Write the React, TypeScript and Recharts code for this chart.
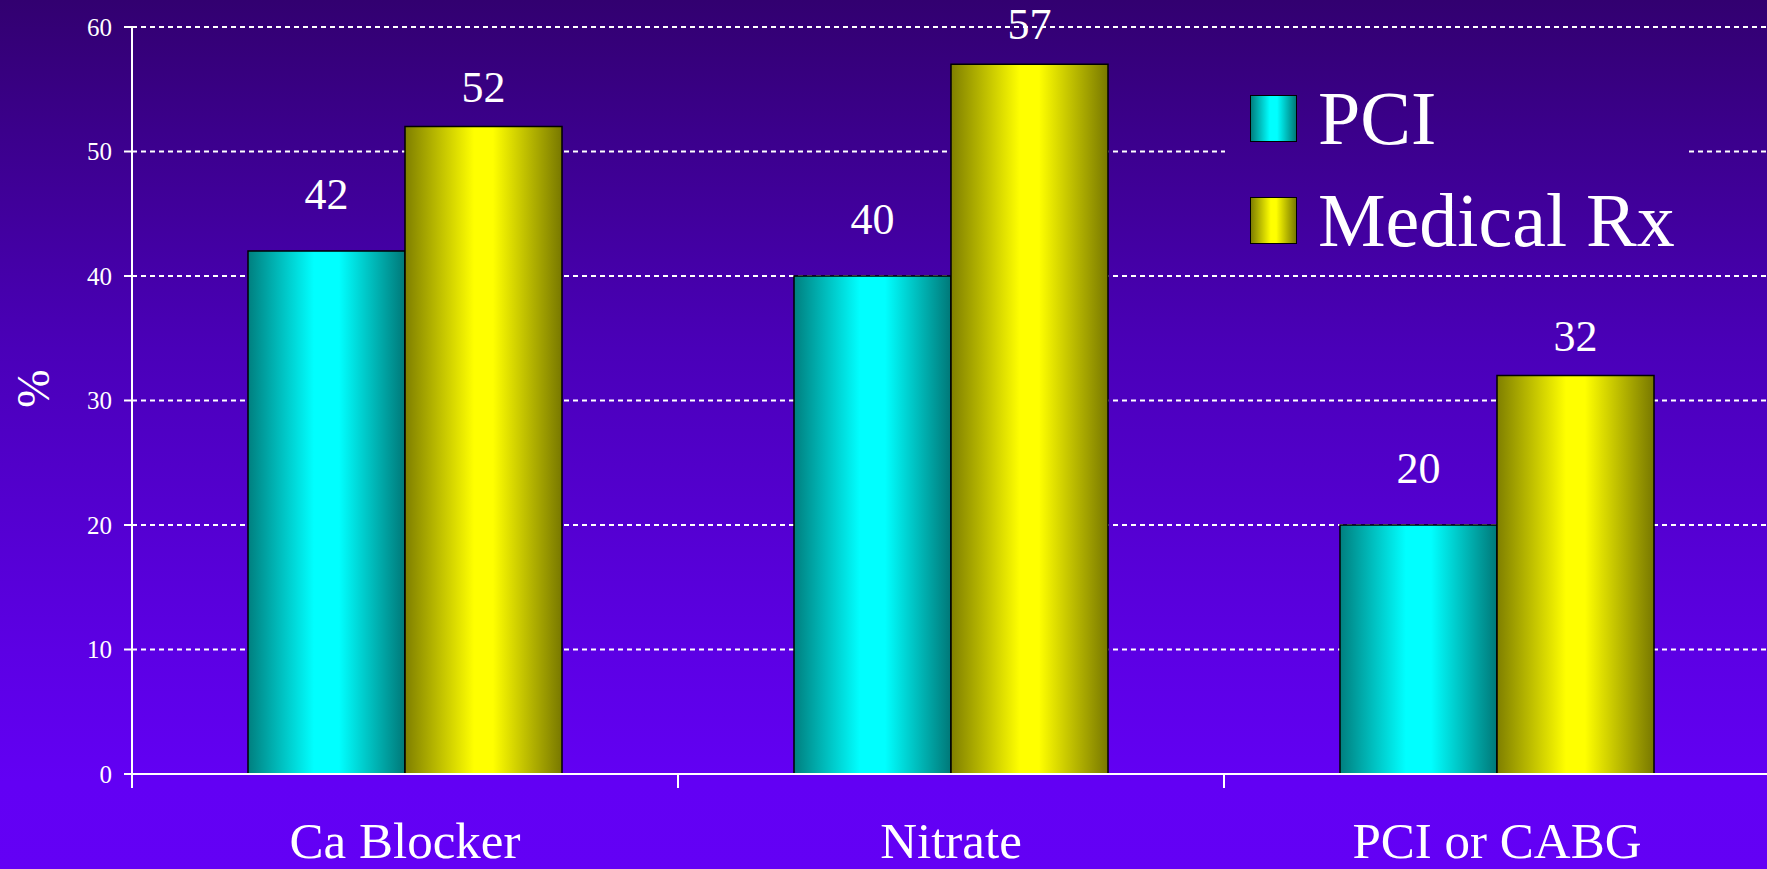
import React from "react";
import {
  BarChart,
  Bar,
  XAxis,
  YAxis,
  CartesianGrid,
  Legend,
  LabelList,
  Label,
} from "recharts";

const categories = ["Ca Blocker", "Nitrate", "PCI or CABG"];
const pciValues = [42, 40, 20];
const medicalValues = [52, 57, 32];
const yTicks = [0, 10, 20, 30, 40, 50, 60];

const SERIF = '"Liberation Serif", "Times New Roman", serif';
const PAGE_BG =
  "linear-gradient(to bottom, #320070 0%, #4a00b8 40%, #5c00e4 75%, #6200f4 90%, #6300f5 100%)";

const data = categories.map((name, i) => ({
  name,
  pci: pciValues[i],
  medical: medicalValues[i],
}));

const SERIES = [
  { key: "pci", name: "PCI", grad: "gradPci" },
  { key: "medical", name: "Medical Rx", grad: "gradMed" },
];
const SERIES_ORDER = SERIES.map((s) => s.name);

const LEGEND_SWATCH: Record<string, string> = {
  PCI: "linear-gradient(to right, #007f7f 0%, #00ffff 42%, #00ffff 58%, #007878 100%)",
  "Medical Rx":
    "linear-gradient(to right, #7f7f00 0%, #ffff00 44%, #ffff00 56%, #787800 100%)",
};

// category label under the band centre, plus a tick mark at the band's left edge
function CategoryTick(props: any) {
  const { x, y, payload } = props;
  const half = payload?.offset ?? 273;
  return (
    <g>
      <line x1={x - half} y1={y} x2={x - half} y2={y + 14} stroke="#fff" strokeWidth={2} />
      <text
        x={x}
        y={y + 84}
        textAnchor="middle"
        fill="#fff"
        fontSize={51}
        fontFamily={SERIF}
      >
        {payload.value}
      </text>
    </g>
  );
}

function PercentLabel(props: any) {
  const vb = props.viewBox || { x: 0, y: 27, width: 132, height: 747 };
  const cx = vb.x + 33;
  const cy = vb.y + vb.height / 2 - 12;
  return (
    <text
      x={cx}
      y={cy}
      transform={`rotate(-90, ${cx}, ${cy})`}
      textAnchor="middle"
      dominantBaseline="central"
      fill="#fff"
      fontSize={46}
      fontFamily={SERIF}
    >
      %
    </text>
  );
}

function LegendBox(props: any) {
  const items = [...(props.payload || [])].sort(
    (a: any, b: any) => SERIES_ORDER.indexOf(a.value) - SERIES_ORDER.indexOf(b.value)
  );
  return (
    <div
      style={{
        width: 461,
        height: 205,
        background: PAGE_BG,
        backgroundAttachment: "fixed",
        position: "relative",
      }}
    >
      {items.map((item: any, i: number) => (
        <div
          key={item.value}
          style={{
            position: "absolute",
            left: 25,
            top: 34 + i * 102,
            height: 48,
            display: "flex",
            alignItems: "center",
          }}
        >
          <div
            style={{
              width: 45,
              height: 45,
              border: "1.5px solid #000",
              background: LEGEND_SWATCH[item.value],
            }}
          />
          <span
            style={{
              marginLeft: 21,
              color: "#fff",
              fontFamily: SERIF,
              fontSize: 76,
              lineHeight: 1,
              whiteSpace: "nowrap",
            }}
          >
            {item.value}
          </span>
        </div>
      ))}
    </div>
  );
}

export default function App() {
  return (
    <div
      style={{
        position: "absolute",
        left: 0,
        top: 0,
        width: 1767,
        height: 869,
        overflow: "hidden",
        background: PAGE_BG,
      }}
    >
      <BarChart
        width={1770}
        height={869}
        data={data}
        margin={{ top: 27, right: 0, bottom: 0, left: 0 }}
        barCategoryGap={116}
        barGap={0}
      >
        <defs>
          <linearGradient id="gradPci" x1="0" y1="0" x2="1" y2="0">
            <stop offset="0%" stopColor="#007f7f" />
            <stop offset="42%" stopColor="#00ffff" />
            <stop offset="58%" stopColor="#00ffff" />
            <stop offset="100%" stopColor="#007878" />
          </linearGradient>
          <linearGradient id="gradMed" x1="0" y1="0" x2="1" y2="0">
            <stop offset="0%" stopColor="#7f7f00" />
            <stop offset="44%" stopColor="#ffff00" />
            <stop offset="56%" stopColor="#ffff00" />
            <stop offset="100%" stopColor="#787800" />
          </linearGradient>
        </defs>
        <CartesianGrid
          vertical={false}
          stroke="#fff"
          strokeWidth={2}
          strokeDasharray="5 4"
        />
        <XAxis
          dataKey="name"
          height={95}
          tickSize={0}
          tickMargin={0}
          axisLine={{ stroke: "#fff", strokeWidth: 2 }}
          tick={<CategoryTick />}
          interval={0}
        />
        <YAxis
          width={132}
          domain={[0, 60]}
          ticks={yTicks}
          tickSize={8}
          tickMargin={12}
          axisLine={{ stroke: "#fff", strokeWidth: 2 }}
          tickLine={{ stroke: "#fff", strokeWidth: 2 }}
          tick={{ fill: "#fff", fontSize: 25, fontFamily: SERIF }}
        >
          <Label content={<PercentLabel />} />
        </YAxis>
        <Legend
          layout="horizontal"
          verticalAlign="middle"
          align="center"
          wrapperStyle={{ top: 60, left: 1225, width: 461, height: 205 }}
          content={<LegendBox />}
        />
        {SERIES.map((s, i) => (
          <Bar
            key={s.key}
            dataKey={s.key}
            name={s.name}
            fill={`url(#${s.grad})`}
            stroke="#000"
            strokeWidth={1.5}
            isAnimationActive={false}
          >
            <LabelList
              dataKey={s.key}
              position="top"
              offset={i === 0 ? 42 : 25}
              fill="#fff"
              fontSize={44}
              fontFamily={SERIF}
            />
          </Bar>
        ))}
      </BarChart>
    </div>
  );
}
